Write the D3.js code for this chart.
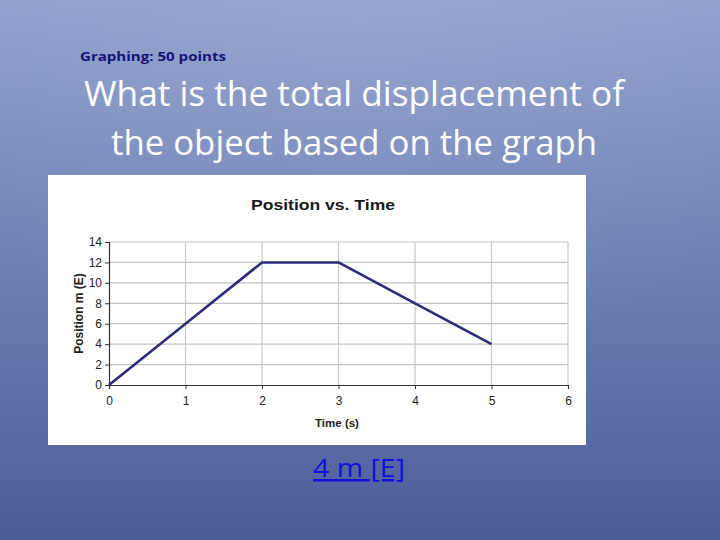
<!DOCTYPE html>
<html><head><meta charset="utf-8">
<script src="https://cdn.jsdelivr.net/npm/d3@7"></script>
<style>html,body{margin:0;padding:0;overflow:hidden;background:#6d80b3}</style>
</head><body>
<svg id="c" width="720" height="540"></svg>
<script>
const times = [0, 1, 2, 3, 4, 5];
const positions = [0, 6, 12, 12, 8, 4];
const xTicks = [0, 1, 2, 3, 4, 5, 6];
const yTicks = [0, 2, 4, 6, 8, 10, 12, 14];
const headerText = "Graphing: 50 points";
const questionLines = ["What is the total displacement of", "the object based on the graph"];
const answerText = "4 m [E]";
const chartTitle = "Position vs. Time";
const xLabel = "Time (s)";
const yLabel = "Position m (E)";

const svg = d3.select("#c");
const defs = svg.append("defs");
const lg = defs.append("linearGradient").attr("id","bg").attr("x1",0).attr("y1",0).attr("x2",0).attr("y2",1);
lg.append("stop").attr("offset","0%").attr("stop-color","#8fa1cb");
lg.append("stop").attr("offset","55%").attr("stop-color","#6a7db2");
lg.append("stop").attr("offset","100%").attr("stop-color","#4a5d97");
const rg = defs.append("radialGradient").attr("id","hl").attr("cx","0.5").attr("cy","0").attr("r","0.7");
rg.append("stop").attr("offset","0%").attr("stop-color","#ffffff").attr("stop-opacity",0.08);
rg.append("stop").attr("offset","100%").attr("stop-color","#ffffff").attr("stop-opacity",0);
svg.append("rect").attr("width",720).attr("height",540).attr("fill","url(#bg)");
svg.append("rect").attr("width",720).attr("height",540).attr("fill","url(#hl)");

svg.append("text").attr("x",80).attr("y",61).attr("font-family","'Open Sans', sans-serif")
  .attr("font-weight","bold").attr("font-size",12.5).attr("fill","#141478")
  .attr("textLength",146).attr("lengthAdjust","spacingAndGlyphs").text(headerText);

const qy = [106, 155];
questionLines.forEach((t,i)=>{
  svg.append("text").attr("x",354).attr("y",qy[i]).attr("text-anchor","middle")
    .attr("font-family","'Open Sans', sans-serif").attr("font-size",35).attr("fill","#ffffff")
    .attr("textLength", i===0?540:486).attr("lengthAdjust","spacingAndGlyphs").text(t);
});

// chart box
svg.append("rect").attr("x",48).attr("y",175).attr("width",538).attr("height",270).attr("fill","#ffffff");

const x = d3.scaleLinear().domain([0,6]).range([109,568]);
const y = d3.scaleLinear().domain([0,14]).range([385,242]);

svg.append("text").attr("x",323).attr("y",210).attr("text-anchor","middle")
  .attr("font-family","'Liberation Sans', Arial, sans-serif").attr("font-weight","bold")
  .attr("font-size",15).attr("fill","#1a1a1a").attr("textLength",144).attr("lengthAdjust","spacingAndGlyphs")
  .text(chartTitle);

const g = svg.append("g");
// grid
g.selectAll("line.hg").data(yTicks.filter(d=>d>0)).join("line").attr("class","hg")
  .attr("x1",x(0)).attr("x2",x(6)).attr("y1",d=>y(d)).attr("y2",d=>y(d))
  .attr("stroke","#c4c4c4").attr("stroke-width",1.2);
g.selectAll("line.vg").data(xTicks.filter(d=>d>0)).join("line").attr("class","vg")
  .attr("y1",y(0)).attr("y2",y(14)).attr("x1",d=>x(d)).attr("x2",d=>x(d))
  .attr("stroke","#c8c8c8").attr("stroke-width",1.2);

const xAxis = g.append("g").attr("transform",`translate(0,${y(0)})`)
  .call(d3.axisBottom(x).tickValues(xTicks).tickSize(4).tickPadding(7).tickFormat(d3.format("d")));
const yAxis = g.append("g").attr("transform",`translate(${x(0)},0)`)
  .call(d3.axisLeft(y).tickValues(yTicks).tickSize(4).tickPadding(3).tickFormat(d3.format("d")));
[xAxis,yAxis].forEach(a=>{
  a.select(".domain").attr("stroke","#333").attr("stroke-width",1.2);
  a.selectAll(".tick line").attr("stroke","#333");
  a.selectAll(".tick text").attr("font-family","'Liberation Sans', Arial, sans-serif")
    .attr("font-size",12).attr("fill","#222");
});

const line = d3.line().x((d,i)=>x(times[i])).y(d=>y(d));
g.append("path").datum(positions).attr("d",line).attr("fill","none")
  .attr("stroke","#2b2d78").attr("stroke-width",2.6).attr("stroke-linejoin","round");

svg.append("text").attr("x",337).attr("y",427).attr("text-anchor","middle")
  .attr("font-family","'Liberation Sans', Arial, sans-serif").attr("font-weight","bold")
  .attr("font-size",11.5).attr("fill","#222").text(xLabel);
svg.append("text").attr("transform",`translate(83,${y(7)}) rotate(-90)`).attr("text-anchor","middle")
  .attr("font-family","'Liberation Sans', Arial, sans-serif").attr("font-weight","bold")
  .attr("font-size",12).attr("fill","#222").text(yLabel);

svg.append("text").attr("x",359).attr("y",477).attr("text-anchor","middle")
  .attr("font-family","'Open Sans', sans-serif").attr("font-size",25).attr("fill","#1010dd")
  .attr("text-decoration","underline").attr("textLength",92).attr("lengthAdjust","spacingAndGlyphs")
  .text(answerText);
</script>
</body></html>
